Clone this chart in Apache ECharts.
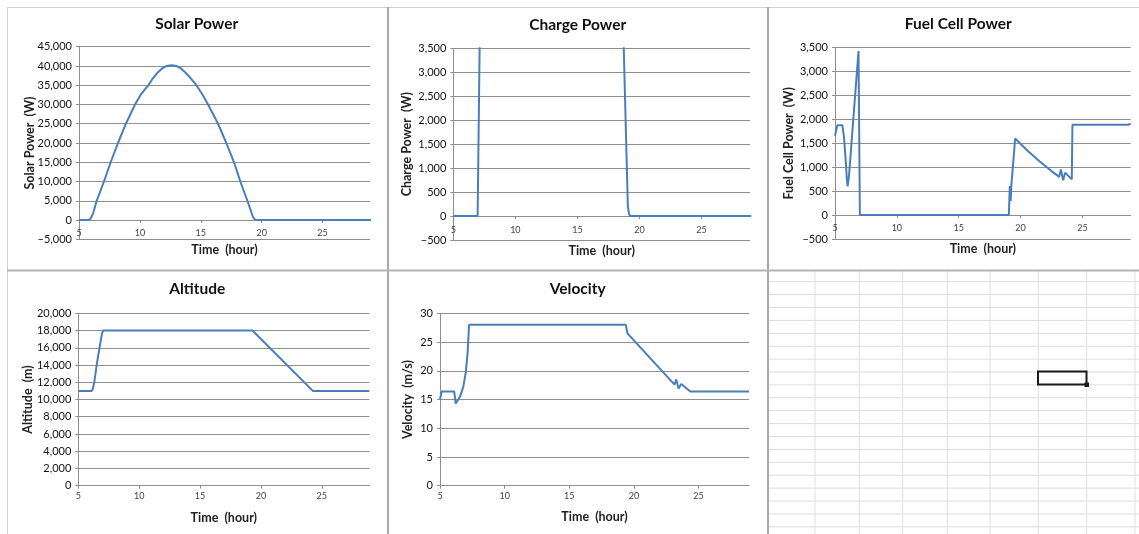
<!DOCTYPE html>
<html>
<head>
<meta charset="utf-8">
<script src="https://cdn.jsdelivr.net/npm/echarts@6/dist/echarts.min.js"></script>
<style>html,body{margin:0;padding:0;background:#fff}#c{width:1139px;height:534px}</style>
</head>
<body>
<div id="c"></div>
<script>
// ---------- data (hours / values) ----------
const timeTicks = [5, 10, 15, 20, 25];

const solarT = [5, 5.75, 5.95, 6.17, 6.45, 7.05, 7.6, 8.2, 8.85, 9.6, 10.1, 10.7, 11.0, 11.4, 11.8, 12.2, 12.6, 13.0, 13.4, 13.8, 14.2, 14.64, 15.1, 15.6, 16.42, 17.1, 17.73, 18.25, 18.83, 19.29, 19.45, 19.55, 29];
const solarP = [0, 0, 300, 1800, 5000, 10000, 15000, 20000, 25000, 30000, 32700, 35000, 36500, 38100, 39300, 40000, 40200, 40000, 39300, 38100, 36700, 35000, 32800, 30000, 25000, 20000, 15000, 10000, 5000, 800, 100, 0, 0];

const chargeT = [5, 6.96, 7.12, 7.2, 8, 10, 12.6, 15, 17, 18.3, 18.73, 18.9, 19.06, 19.15, 19.25, 29];
const chargeP = [0, 0, 3500, 5200, 12000, 24000, 30000, 24000, 12000, 6000, 3500, 1800, 200, 50, 0, 0];

const fuelT = [5, 5.05, 5.19, 5.59, 5.72, 5.86, 5.96, 6.02, 6.13, 6.21, 6.9, 7.01, 19.05, 19.13, 19.2, 19.25, 19.56, 20.5, 21.5, 22.5, 23.12, 23.26, 23.44, 23.6, 24.14, 24.19, 28.7, 28.9];
const fuelP = [1660, 1690, 1880, 1880, 1650, 1165, 750, 600, 816, 816, 3430, 0, 0, 607, 293, 607, 1600, 1360, 1130, 920, 800, 956, 726, 887, 747, 1890, 1890, 1910];

const altT = [5, 6.1, 6.2, 6.32, 6.51, 6.73, 6.95, 7.05, 19.3, 24.26, 28.9];
const altV = [11000, 11000, 11250, 12070, 14000, 15900, 17700, 18000, 18000, 11000, 11000];

const velT = [5, 5.13, 6.1, 6.21, 6.3, 6.55, 6.8, 7.0, 7.14, 7.25, 19.37, 19.5, 23.14, 23.27, 23.45, 23.66, 24.36, 28.9];
const velV = [15.0, 16.4, 16.4, 14.3, 14.4, 15.5, 17.2, 19.8, 23.3, 28.0, 28.0, 26.5, 17.6, 18.5, 16.9, 17.7, 16.4, 16.4];

const titles = ['Solar Power', 'Charge Power', 'Fuel Cell Power', 'Altitude', 'Velocity'];
const yNames = ['Solar Power  (W)', 'Charge Power  (W)', 'Fuel Cell Power  (W)', 'Altitude  (m)', 'Velocity  (m/s)'];
const xName = 'Time  (hour)';

// ---------- layout ----------
const FONT = 'Lato, "Open Sans", sans-serif';
const BLUE = '#4a7ebb';
const GRIDC = '#8e8e8e';
const zip = (a, b) => a.map((v, i) => [v, b[i]]);
const fmt = v => (v < 0 ? '\u2212' : '') + Math.abs(v).toLocaleString('en-US');

const panels = [
  {t: solarT, v: solarP, grid: {left: 79, top: 46.7, width: 291, height: 192.6}, y: [-5000, 45000, 5000], title: [196.7, 24], xGap: 4.5, lblM: -11, yGap: 43},
  {t: chargeT, v: chargeP, grid: {left: 453.3, top: 48.3, width: 296.7, height: 191.7}, y: [-500, 3500, 500], title: [577.7, 25], xGap: 4.5, lblM: -14.5, yGap: 40},
  {t: fuelT, v: fuelP, grid: {left: 835, top: 47.7, width: 295.7, height: 191.3}, y: [-500, 3500, 500], title: [958.3, 23.5], xGap: 3.5, lblM: -15, yGap: 40},
  {t: altT, v: altV, grid: {left: 78.3, top: 313.3, width: 291, height: 172.4}, y: [0, 20000, 2000], title: [197.3, 289.3], xGap: 25.5, lblM: 6, yGap: 44},
  {t: velT, v: velV, grid: {left: 440, top: 313.3, width: 309, height: 172.4}, y: [0, 30, 5], title: [577.7, 289.3], xGap: 24.5, lblM: 6, yGap: 26}
];

const option = {
  backgroundColor: '#fff',
  animation: false,
  title: [], grid: [], xAxis: [], yAxis: [], series: [], graphic: []
};

panels.forEach((p, i) => {
  option.title.push({
    text: titles[i], left: p.title[0], top: p.title[1], textAlign: 'center', textVerticalAlign: 'middle', padding: 0,
    textStyle: {fontFamily: FONT, fontSize: 15.5, fontWeight: 'bold', color: '#111'}
  });
  option.grid.push(Object.assign({show: false, containLabel: false}, p.grid));
  option.xAxis.push({
    type: 'value', gridIndex: i, min: 5, max: 28.9, interval: 5,
    name: xName, nameLocation: 'middle', nameGap: p.xGap, nameMoveOverlap: false,
    nameTextStyle: {fontFamily: FONT, fontSize: 12.5, fontWeight: 'bold', color: '#222'},
    axisLine: {show: true, onZero: true, lineStyle: {color: GRIDC, width: 1}},
    axisTick: {show: true, length: 3, lineStyle: {color: GRIDC}},
    axisLabel: {fontFamily: FONT, fontSize: 9, color: '#444', margin: p.lblM, showMaxLabel: false,
      formatter: v => timeTicks.includes(v) ? String(v) : ''},
    splitLine: {show: false}
  });
  option.yAxis.push({
    type: 'value', gridIndex: i, min: p.y[0], max: p.y[1], interval: p.y[2],
    name: yNames[i], nameLocation: 'middle', nameGap: p.yGap, nameRotate: 90, nameMoveOverlap: false,
    nameTextStyle: {fontFamily: FONT, fontSize: 12.5, fontWeight: 'bold', color: '#222'},
    axisLine: {show: true, onZero: false, lineStyle: {color: GRIDC, width: 1}},
    axisTick: {show: true, length: 3, lineStyle: {color: GRIDC}},
    axisLabel: {fontFamily: FONT, fontSize: 11, color: '#111', margin: 7, formatter: fmt},
    splitLine: {show: true, lineStyle: {color: GRIDC, width: 1}}
  });
  option.series.push({
    type: 'line', xAxisIndex: i, yAxisIndex: i, data: zip(p.t, p.v),
    showSymbol: false, symbol: 'none', clip: true, smooth: false,
    lineStyle: {color: BLUE, width: 2}
  });
});

// ---------- decoration: panel borders and spreadsheet cells ----------
const g = option.graphic;
const line = (x1, y1, x2, y2, c, w) => g.push({type: 'line', silent: true, shape: {x1, y1, x2, y2}, style: {stroke: c, lineWidth: w}});
const rows = [];
for (let k = 0; k < 20; k++) rows.push(281.7 + k * 12.9);
const cols = [815, 859.3, 902.7, 947.3, 990, 1038.3, 1086.7, 1135];
rows.forEach(y => line(769, y, 1139, y, '#dcdcdc', 1));
cols.forEach(x => line(x, 271, x, 534, '#e0e0e0', 1));
line(7.5, 7, 7.5, 534, '#cfcfcf', 1);
line(7, 7.5, 1139, 7.5, '#cfcfcf', 1);
line(388, 7, 388, 534, '#a8a8a8', 2);
line(768, 7, 768, 534, '#a8a8a8', 2);
line(7, 270.5, 1139, 270.5, '#b4b4b4', 2);
g.push({type: 'rect', silent: true, shape: {x: 1038, y: 371.5, width: 48.5, height: 13}, style: {fill: 'none', stroke: '#1a1a1a', lineWidth: 2}});
g.push({type: 'rect', silent: true, shape: {x: 1084.5, y: 382.5, width: 4.5, height: 4.5}, style: {fill: '#1a1a1a'}});

const chart = echarts.init(document.getElementById('c'), null, {renderer: 'canvas'});
chart.setOption(option);
</script>
</body>
</html>
